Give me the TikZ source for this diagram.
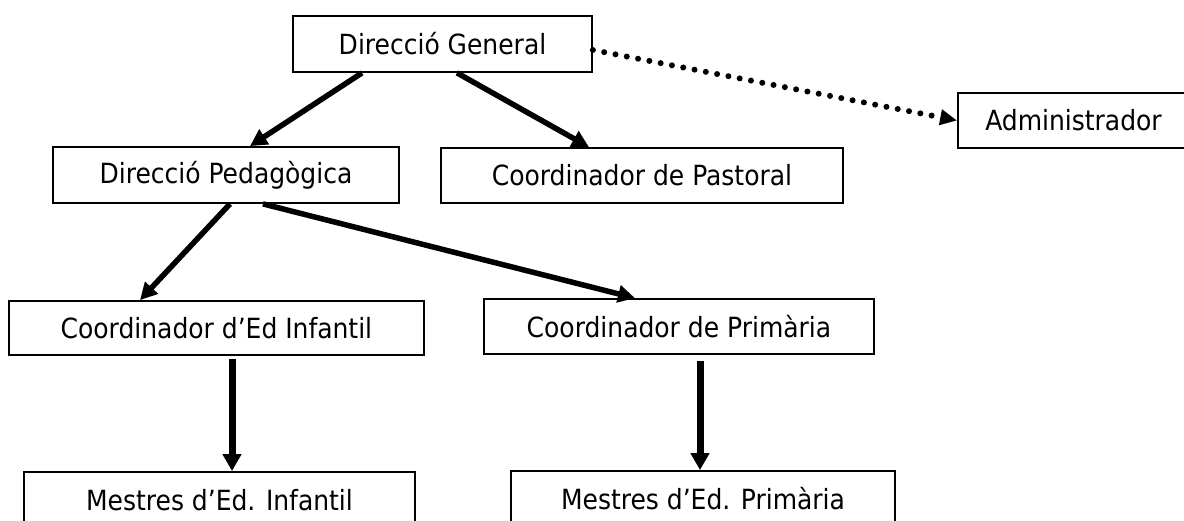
\documentclass[tikz,border=0pt]{standalone}
\usepackage{fontspec}
\setmainfont{DejaVu Sans Condensed}
\usetikzlibrary{arrows.meta,calc}
\begin{document}
\begin{tikzpicture}[x=1pt,y=1pt,
  box/.style={draw=black,line width=1.8pt,inner sep=0pt,fill=white,
    font=\fontsize{27.8}{33}\selectfont},
  thick arrow/.style={line width=5.5pt,-{Triangle[length=17pt,width=17pt]}},
  vert arrow/.style={line width=7pt,-{Triangle[length=17pt,width=18pt]}},
  dotted arrow/.style={line width=6pt,line cap=round,dash pattern=on 0pt off 11.5pt,
    -{Triangle[length=17pt,width=15pt]}}]
\useasboundingbox (0,0) rectangle (1184,521);
\clip (0,0) rectangle (1184,521);
\fill[white] (0,0) rectangle (1184,521);

\node[box,minimum width=299pt,minimum height=56pt] (dg) at (442.5,477) {Direcció General};
\node[box,minimum width=231pt,minimum height=55pt] (admin) at (1073.5,400.5) {Administrador};
\node[box,minimum width=346pt,minimum height=56pt] (dp) at (226,346) {Direcció Pedagògica};
\node[box,minimum width=402pt,minimum height=55pt] (cp) at (642,345.5) {Coordinador de Pastoral};
\node[box,minimum width=415pt,minimum height=54pt] (cdi) at (216.5,193) {Coordinador d’Ed Infantil};
\node[box,minimum width=390pt,minimum height=55pt] (cdp) at (679,194.5) {Coordinador de Primària};
\node[box,minimum width=391pt,minimum height=56pt] (mi) at (219.5,21) {Mestres d’Ed. Infantil};
\node[box,minimum width=384pt,minimum height=56pt] (mp) at (703,22) {Mestres d’Ed. Primària};

\draw[thick arrow] ([xshift=-80.5pt]dg.south) -- ([xshift=24pt]dp.north);
\draw[thick arrow] ([xshift=14.5pt]dg.south) -- ([xshift=-53pt]cp.north);
\draw[dotted arrow] ([yshift=-6pt]dg.east) -- (admin.west);
\draw[thick arrow] ([xshift=4pt]dp.south) -- ([xshift=-76.5pt]cdi.north);
\draw[thick arrow] ([xshift=37pt]dp.south) -- ([xshift=-44pt]cdp.north);
\draw[vert arrow] ([xshift=15.5pt,yshift=-3pt]cdi.south) -- ([xshift=12.5pt]mi.north);
\draw[vert arrow] ([xshift=21pt,yshift=-6pt]cdp.south) -- ([xshift=-3pt]mp.north);
\end{tikzpicture}
\end{document}
